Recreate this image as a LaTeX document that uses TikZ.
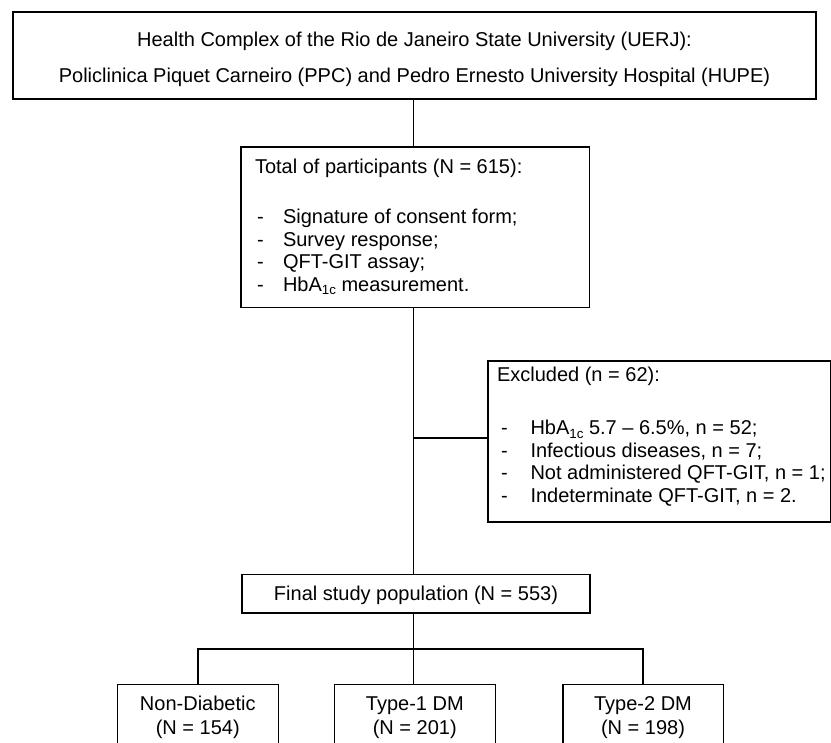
\documentclass[tikz,border=0pt]{standalone}
\usepackage{fontspec}
\setmainfont{Liberation Sans}
\newcommand\subtxt[1]{\raisebox{-3.5pt}{\fontsize{13.3}{13}\selectfont #1}}
\begin{document}
\begin{tikzpicture}[x=1pt,y=-1pt,
  box/.style={draw, line width=1.6pt, inner sep=0pt, outer sep=0pt, rectangle},
  txt/.style={inner sep=0pt, outer sep=0pt, font=\fontsize{20}{22.6}\selectfont},
  link/.style={line width=1.6pt}]
\useasboundingbox (0,0) rectangle (831,743);
\clip (0,0) rectangle (831,743);
% boxes
\node[box, minimum width=803pt, minimum height=87pt] (top) at (414.5,55.5) {};
\node[box, minimum width=348.5pt, minimum height=160.5pt] (tot) at (415.25,227.25) {};
\node[box, minimum width=342.5pt, minimum height=161pt] (exc) at (659.25,441.5) {};
\node[box, minimum width=348pt, minimum height=38.2pt] (fin) at (416,593.6) {};
\node[box, minimum width=161pt, minimum height=85.4pt] (nd) at (197.8,727) {};
\node[box, minimum width=161pt, minimum height=85.4pt] (t1) at (414.8,727) {};
\node[box, minimum width=160.6pt, minimum height=85.4pt] (t2) at (643,727) {};
% helper coordinates
\coordinate (spine) at (413.5,0);
\coordinate (exy) at (0,438);
\coordinate (branch) at (0,649);
% connectors
\draw[link] (top.south -| spine) -- (tot.north -| spine);
\draw[link] (tot.south -| spine) -- (fin.north -| spine);
\draw[link] (spine |- exy) -- (exc.west |- exy);
\draw[link] (fin.south -| spine) -- (t1.north -| spine);
\draw[link] (nd.north) -- (nd.north |- branch) -- (t2.north |- branch) -- (t2.north);
% texts
\node[txt, anchor=base] (l1) at (414.5,46.7) {Health Complex of the Rio de Janeiro State University (UERJ):};
\node[txt, anchor=base] (l2) at (414.5,82.7) {Policlinica Piquet Carneiro (PPC) and Pedro Ernesto University Hospital (HUPE)};
\node[txt, anchor=base west] (th) at (255,173.3) {Total of participants (N = 615):};
\foreach \yy/\tt [count=\i] in {224/{Signature of consent form;},246.5/{Survey response;},269/{QFT-GIT assay;},291.5/{HbA\subtxt{1c} measurement.}}{
  \node[txt, anchor=base west] (td\i) at (257,\yy) {-};
  \node[txt, anchor=base west] (ti\i) at (283,\yy) {\tt};
}
\node[txt, anchor=base west] (eh) at (497,381.7) {Excluded (n = 62):};
\foreach \yy/\tt [count=\i] in {435/{HbA\subtxt{1c} 5.7 – 6.5\%, n = 52;},457.5/{Infectious diseases, n = 7;},480/{Not administered QFT-GIT, n = 1;},502.5/{Indeterminate QFT-GIT, n = 2.}}{
  \node[txt, anchor=base west] (ed\i) at (501,\yy) {-};
  \node[txt, anchor=base west] (ei\i) at (530.5,\yy) {\tt};
}
\node[txt, anchor=base] (ft) at (416,600.7) {Final study population (N = 553)};
\node[txt, anchor=base] (nd1) at (197.8,710) {Non-Diabetic};
\node[txt, anchor=base] (nd2) at (197.8,734.5) {(N = 154)};
\node[txt, anchor=base] (ta1) at (414.8,710) {Type-1 DM};
\node[txt, anchor=base] (ta2) at (414.8,734.5) {(N = 201)};
\node[txt, anchor=base] (tb1) at (643,710) {Type-2 DM};
\node[txt, anchor=base] (tb2) at (643,734.5) {(N = 198)};
\end{tikzpicture}
\end{document}
